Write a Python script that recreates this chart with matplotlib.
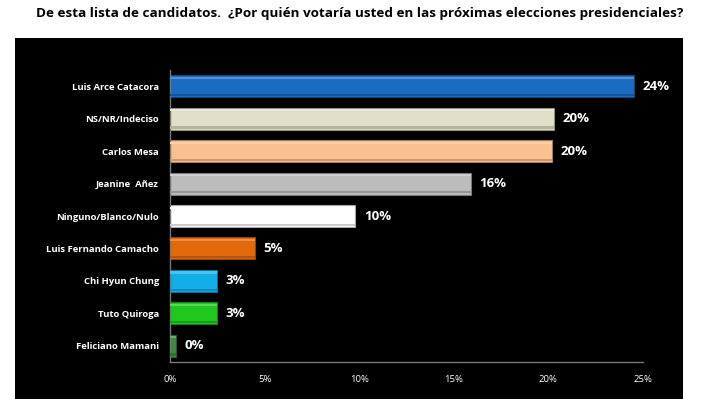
import matplotlib.pyplot as plt
from matplotlib.patches import Rectangle
from matplotlib.colors import to_rgb

candidatos = ["Luis Arce Catacora", "NS/NR/Indeciso", "Carlos Mesa", "Jeanine  Añez",
              "Ninguno/Blanco/Nulo", "Luis Fernando Camacho", "Chi Hyun Chung",
              "Tuto Quiroga", "Feliciano Mamani"]
valores = [24.5, 20.3, 20.2, 15.9, 9.8, 4.5, 2.5, 2.5, 0.3]
etiquetas = ["24%", "20%", "20%", "16%", "10%", "5%", "3%", "3%", "0%"]
colores = ["#1a6cc0", "#e2dfc8", "#fbc08f", "#bcbcbc", "#ffffff",
           "#e2690c", "#12aee8", "#20c81e", "#3f8a45"]
ticks = [0, 5, 10, 15, 20, 25]
tick_labels = ["0%", "5%", "10%", "15%", "20%", "25%"]

plt.rcParams['font.family'] = ['Open Sans', 'DejaVu Sans']

fig = plt.figure(figsize=(7.2, 3.99), dpi=100)
fig.patch.set_facecolor("white")

# panel negro (detras de los ejes)
fig.patches.append(Rectangle((15 / 720, 0), (683 - 15) / 720, 1 - 38 / 399,
                             transform=fig.transFigure, facecolor="black",
                             edgecolor="none", zorder=-10))

fig.text(0.5, 1 - 13 / 399,
         "De esta lista de candidatos.  ¿Por quién votaría usted en las próximas elecciones presidenciales?",
         ha="center", va="center", fontsize=9.7, fontweight="bold", color="black")

ax = fig.add_axes([170 / 720, 1 - 362 / 399, (643 - 170) / 720, (362 - 70) / 399])
ax.set_facecolor("none")
ax.set_zorder(5)

y = list(range(len(candidatos)))[::-1]
h = 0.68


def mix(c, w, t):
    r = to_rgb(c)
    w = to_rgb(w)
    return tuple(r[i] * (1 - t) + w[i] * t for i in range(3))


for yi, v, c in zip(y, valores, colores):
    ax.barh(yi, v, height=h, color=c, edgecolor=mix(c, (0, 0, 0), 0.35), linewidth=0.8, zorder=2)
    # brillo superior para efecto 3D
    ax.barh(yi + h * 0.38, v, height=h * 0.1, color=mix(c, (1, 1, 1), 0.25),
            edgecolor="none", zorder=3)
    ax.barh(yi - h * 0.4, v, height=h * 0.1, color=mix(c, (0, 0, 0), 0.2),
            edgecolor="none", zorder=3)

for yi, v, lab in zip(y, valores, etiquetas):
    ax.text(v + 0.45, yi, lab, va="center", ha="left", color="white",
            fontsize=9.5, fontweight="bold")

ax.set_xlim(0, 25)
ax.set_ylim(-0.5, 8.5)
ax.set_yticks(y)
ax.set_yticklabels(candidatos, color="white", fontsize=6.8, fontweight="bold")
ax.set_xticks(ticks)
ax.set_xticklabels(tick_labels, color="white", fontsize=6.8)
ax.tick_params(axis="both", length=0, pad=9)
ax.tick_params(axis="y", pad=8)

for s in ["top", "right"]:
    ax.spines[s].set_visible(False)
for s in ["left", "bottom"]:
    ax.spines[s].set_color("#777777")
    ax.spines[s].set_linewidth(1.0)

fig.savefig("out.png", dpi=100, facecolor=fig.get_facecolor())
